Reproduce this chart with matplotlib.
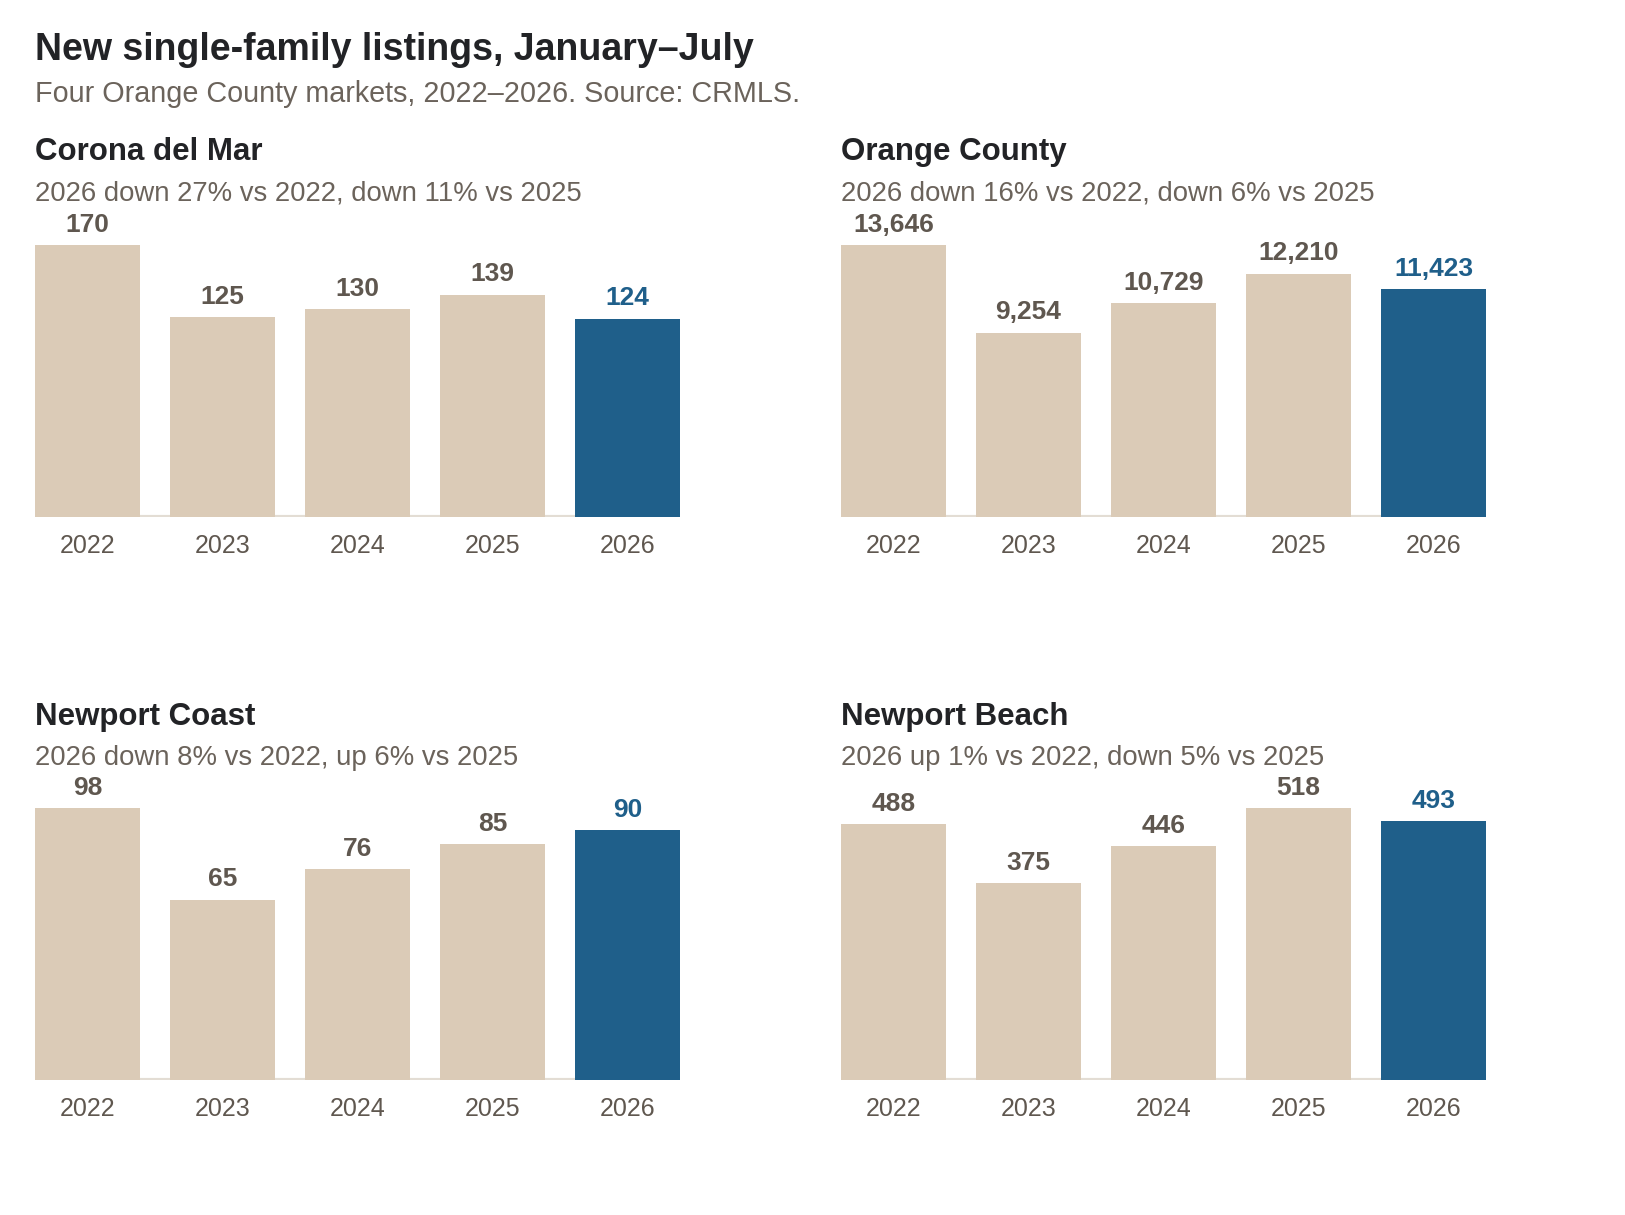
import matplotlib.pyplot as plt

plt.rcParams["font.family"] = ["Liberation Sans", "DejaVu Sans"]

years = ["2022", "2023", "2024", "2025", "2026"]
markets = ["Corona del Mar", "Orange County", "Newport Coast", "Newport Beach"]
corona_del_mar = [170, 125, 130, 139, 124]
orange_county = [13646, 9254, 10729, 12210, 11423]
newport_coast = [98, 65, 76, 85, 90]
newport_beach = [488, 375, 446, 518, 493]
notes = [
    "2026 down 27% vs 2022, down 11% vs 2025",
    "2026 down 16% vs 2022, down 6% vs 2025",
    "2026 down 8% vs 2022, up 6% vs 2025",
    "2026 up 1% vs 2022, down 5% vs 2025",
]
series = [corona_del_mar, orange_county, newport_coast, newport_beach]

W, H = 1625, 1215
BEIGE = "#dbcbb7"
BLUE = "#1f5f8a"
DARK = "#222326"
GREY = "#6b635b"
LABEL = "#5f574f"
BASE = "#e3ddd4"

fig = plt.figure(figsize=(W / 100, H / 100), dpi=100)


def fy(px):
    return 1 - px / H


fig.text(35 / W, fy(50), "New single-family listings, January\u2013July",
         fontsize=27, fontweight="bold", color=DARK, va="center")
fig.text(35 / W, fy(94), "Four Orange County markets, 2022\u20132026. Source: CRMLS.",
         fontsize=20.7, color=GREY, va="center")

# panel layout: left px, title y, baseline y
lefts = [35, 841, 35, 841]
tops = [152, 152, 717, 717]
baselines = [517, 517, 1080, 1080]
bar_h = 272
ax_w = 645

for i, vals in enumerate(series):
    fig.text(lefts[i] / W, fy(tops[i]), markets[i], fontsize=22.5,
             fontweight="bold", color=DARK, va="center")
    fig.text(lefts[i] / W, fy(tops[i] + 41), notes[i], fontsize=19.8,
             color=GREY, va="center")

    ax = fig.add_axes([lefts[i] / W, fy(baselines[i]), ax_w / W, bar_h / H])
    x = list(range(len(years)))
    colors = [BEIGE] * (len(years) - 1) + [BLUE]
    ax.bar(x, vals, width=0.775, color=colors, zorder=2)
    ax.axhline(0, color=BASE, lw=3, zorder=1)
    ax.set_xlim(-0.3875, len(years) - 1 + 0.3875)
    ax.set_ylim(0, max(vals))
    for j, v in enumerate(vals):
        ax.annotate(f"{v:,}", (j, v), xytext=(0, 14.5), textcoords="offset points",
                    ha="center", va="center", fontsize=19, fontweight="bold",
                    color=BLUE if j == len(vals) - 1 else LABEL, annotation_clip=False)
    ax.set_xticks(x)
    ax.set_xticklabels(years, fontsize=18, color=LABEL)
    ax.tick_params(axis="x", length=0, pad=12.5)
    ax.set_yticks([])
    for s in ax.spines.values():
        s.set_visible(False)
    ax.patch.set_alpha(0)

fig.savefig("out.png", dpi=100, facecolor="white")
